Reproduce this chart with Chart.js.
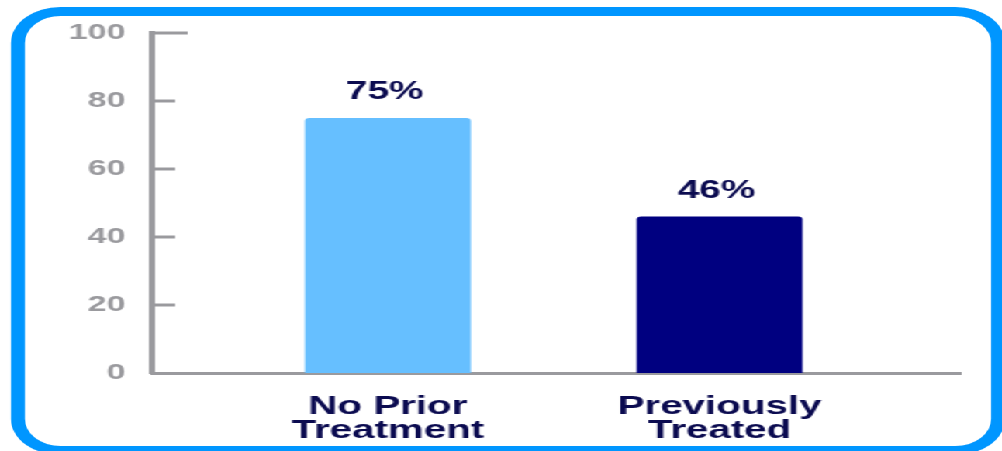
<!DOCTYPE html>
<html lang="en">
<head>
    <meta charset="UTF-8">
    <title>Response by prior treatment</title>
    <script src="https://cdn.jsdelivr.net/npm/chart.js"></script>
    <style>
        html, body {
            margin: 0;
            padding: 0;
            width: 1002px;
            height: 451px;
            overflow: hidden;
            background: #fff;
        }
        /* the source picture is stretched sideways, so draw narrow and stretch */
        #stage {
            position: absolute;
            left: 0;
            top: 0;
            width: 646px;
            height: 451px;
            transform: scaleX(1.551);
            transform-origin: 0 0;
        }
        #frame {
            position: absolute;
            left: 6.5px;
            top: 7px;
            width: 641px;
            height: 448px;
            box-sizing: border-box;
            border: 9px solid #0096ff;
            border-radius: 32px / 36px;
        }
        canvas {
            position: absolute;
            left: 0;
            top: 0;
        }
    </style>
</head>
<body>
    <div id="stage">
        <div id="frame"></div>
        <canvas id="chart" width="646" height="451"></canvas>
    </div>

    <script>
        const categories = [['No Prior', 'Treatment'], ['Previously', 'Treated']];
        const values = [75, 46];
        const valueLabels = ['75%', '46%'];
        const barColors = ['#66bfff', '#000080'];
        const yTicks = [0, 20, 40, 60, 80, 100];

        const axisGray = '#9a9a9e';
        const navy = '#0b0b50';
        const fontFamily = '"Liberation Sans", Arial, sans-serif';

        // short tick marks drawn inside the plot, to the right of the y axis
        const innerTicks = {
            id: 'innerTicks',
            afterDraw(chart) {
                const ctx = chart.ctx;
                const y = chart.scales.y;
                const left = chart.chartArea.left;
                ctx.save();
                ctx.strokeStyle = axisGray;
                ctx.lineWidth = 3;
                yTicks.forEach(v => {
                    if (v === 0) return;
                    const py = y.getPixelForValue(v);
                    const len = v === 100 ? 23 : 15;
                    ctx.beginPath();
                    ctx.moveTo(left, py);
                    ctx.lineTo(left + len, py);
                    ctx.stroke();
                });
                ctx.restore();
            }
        };

        const barLabels = {
            id: 'barLabels',
            afterDatasetsDraw(chart) {
                const ctx = chart.ctx;
                const meta = chart.getDatasetMeta(0);
                ctx.save();
                ctx.fillStyle = navy;
                ctx.font = 'bold 25px ' + fontFamily;
                ctx.textAlign = 'center';
                ctx.textBaseline = 'alphabetic';
                meta.data.forEach((bar, i) => {
                    ctx.fillText(valueLabels[i], bar.x - 2, bar.y - 19);
                });
                ctx.restore();
            }
        };

        new Chart(document.getElementById('chart'), {
            type: 'bar',
            data: {
                datasets: [{
                    data: values.map((v, i) => ({ x: i + 1, y: v })),
                    backgroundColor: barColors,
                    borderRadius: 3,
                    barPercentage: 0.5,
                    categoryPercentage: 1
                }]
            },
            options: {
                responsive: false,
                animation: false,
                layout: { padding: { top: 33, right: 27, left: 0, bottom: 0 } },
                plugins: {
                    legend: { display: false },
                    tooltip: { enabled: false }
                },
                scales: {
                    x: {
                        type: 'linear',
                        offset: false,
                        min: 0.289,
                        max: 2.725,
                        afterBuildTicks(scale) {
                            scale.ticks = categories.map((c, i) => ({ value: i + 1 }));
                        },
                        afterFit(scale) { scale.height = 78; },
                        grid: { display: false, drawTicks: false, offset: false },
                        border: { display: true, color: axisGray, width: 3 },
                        ticks: {
                            padding: 21,
                            color: navy,
                            font: { family: fontFamily, size: 26, weight: 'bold', lineHeight: 0.95 },
                            callback: v => categories[v - 1]
                        }
                    },
                    y: {
                        min: 0,
                        max: 100,
                        afterBuildTicks(scale) {
                            scale.ticks = yTicks.map(v => ({ value: v }));
                        },
                        afterFit(scale) { scale.width = 98; },
                        grid: { display: false, drawTicks: false },
                        border: { display: true, color: axisGray, width: 4 },
                        ticks: {
                            padding: 17,
                            color: axisGray,
                            font: { family: fontFamily, size: 22, weight: 'bold' }
                        }
                    }
                }
            },
            plugins: [innerTicks, barLabels]
        });
    </script>
</body>
</html>
